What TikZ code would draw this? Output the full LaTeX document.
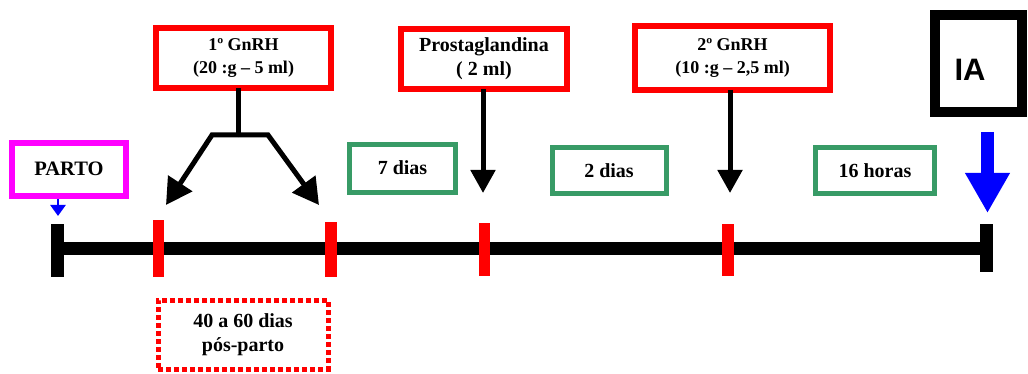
\documentclass[tikz,border=0pt]{standalone}
\usepackage{fontspec}
\setmainfont{Liberation Serif}
\newfontfamily\arialfont{Liberation Sans}
\usetikzlibrary{arrows.meta}
\definecolor{boxred}{RGB}{255,0,0}
\definecolor{boxgreen}{RGB}{56,155,102}
\definecolor{boxmag}{RGB}{255,0,255}
\definecolor{arrblue}{RGB}{0,0,255}
\begin{document}
\begin{tikzpicture}[x=1pt,y=-1pt,
  every node/.style={inner sep=0pt,outer sep=0pt},
  redbox/.style={draw=boxred,line width=6pt,align=center,font=\bfseries\fontsize{18}{23}\selectfont},
  greenbox/.style={draw=boxgreen,line width=5pt,align=center,font=\bfseries\fontsize{20}{24}\selectfont},
  magbox/.style={draw=boxmag,line width=6pt,align=center,font=\bfseries\fontsize{20.5}{24}\selectfont},
  dotbox/.style={draw=boxred,line width=5pt,dash pattern=on 5pt off 3pt,align=center,font=\bfseries\fontsize{20}{24}\selectfont},
  iabox/.style={draw=black,line width=10pt},
  redtick/.style={fill=boxred,minimum width=11.5pt},
  blacktick/.style={fill=black,minimum width=13pt},
  bar/.style={line width=12pt,black},
  blk/.style={line width=5pt,black},
  blkarrow/.style={blk,-{Triangle[length=23pt,width=24pt]}},
  bigarrow/.style={blk,-{Triangle[length=26pt,width=28pt]}},
]
\useasboundingbox (0,0) rectangle (1028,374);

% timeline
\coordinate (p0) at (57,248.5);
\coordinate (p5) at (986,248.5);
\draw[bar] (p0) -- (p5);
\node[blacktick,minimum height=53pt] (t0) at (57,250.5) {};
\node[blacktick,minimum height=48pt] (t5) at (986,248) {};
\node[redtick,minimum height=57pt] (t1) at (158.5,248.5) {};
\node[redtick,minimum height=55pt] (t2) at (331,249.5) {};
\node[redtick,minimum height=53pt] (t3) at (484.7,249.5) {};
\node[redtick,minimum height=52pt] (t4) at (728,250) {};

% boxes
\node[redbox,minimum width=175pt,minimum height=60pt] (g1) at (243.5,58) {1º GnRH\\(20 :g – 5 ml)};
\node[redbox,minimum width=166pt,minimum height=60pt,font=\bfseries\fontsize{20}{24}\selectfont] (pg) at (484,59) {Prostaglandina\\( 2 ml)};
\node[redbox,minimum width=195pt,minimum height=64pt] (g2) at (732.5,58) {2º GnRH\\(10 :g – 2,5 ml)};
\node[iabox,minimum width=87pt,minimum height=97pt] (ia) at (978.5,63.5) {};
\node[font=\arialfont\bfseries\fontsize{31}{36}\selectfont] (iatext) at (970,69.5) {IA};
\node[magbox,minimum width=114pt,minimum height=53pt] (parto) at (69,169.5) {\raisebox{2pt}{PARTO}};
\node[greenbox,minimum width=106pt,minimum height=48pt] (d7) at (402.5,168.5) {\raisebox{2pt}{7 dias}};
\node[greenbox,minimum width=114pt,minimum height=46pt] (d2) at (609,170.5) {2 dias};
\node[greenbox,minimum width=119pt,minimum height=46pt] (h16) at (875,170.5) {16 horas};
\node[dotbox,minimum width=170pt,minimum height=69pt] (pp) at (243,334.5) {40 a 60 dias\\pós-parto};

% arrows from 1º GnRH
\coordinate (j) at (238,135);
\coordinate (jl) at (212,135);
\coordinate (jr) at (268,135);
\coordinate (al) at (166,205);
\coordinate (ar) at (319,205);
\draw[blk] (j |- g1.south) -- (j);
\draw[bigarrow] (j) -- (jl) -- (al);
\draw[bigarrow] (j) -- (jr) -- (ar);

% prostaglandina and 2º GnRH arrows
\coordinate (pga) at (483,193);
\draw[blkarrow] (pga |- pg.south) -- (pga);
\coordinate (g2a) at (730,193);
\draw[blkarrow] (g2a |- g2.south) -- (g2a);

% IA blue arrow
\coordinate (ias) at (987.5,132);
\coordinate (iae) at (987.5,213);
\draw[arrblue,line width=13pt,-{Triangle[length=40pt,width=42pt]}] (ias) -- (iae);

% PARTO small arrow
\coordinate (ps) at (58,199);
\coordinate (pe) at (58,216);
\draw[arrblue,line width=2.5pt,-{Triangle[length=11pt,width=15pt]}] (ps) -- (pe);
\end{tikzpicture}
\end{document}
